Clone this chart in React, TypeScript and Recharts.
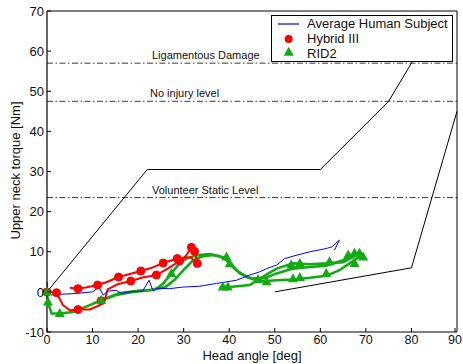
import React from 'react';
import {
  ComposedChart,
  Line,
  XAxis,
  YAxis,
  ReferenceLine,
  Legend,
} from 'recharts';

const xTicks = [0, 10, 20, 30, 40, 50, 60, 70, 80, 90];
const yTicks = [-10, 0, 10, 20, 30, 40, 50, 60, 70];

// injury reference levels [Nm]
const ligamentousDamage = 57;
const noInjuryLevel = 47.5;
const volunteerStatic = 23.5;

// corridor boundaries
const corridorUpper = [
  { x: 0, y: 0 },
  { x: 22, y: 30.5 },
  { x: 60, y: 30.5 },
  { x: 75, y: 47.5 },
  { x: 80, y: 57 },
  { x: 86, y: 68.5 },
];
const corridorLower = [
  { x: 50, y: 0 },
  { x: 80, y: 6 },
  { x: 90, y: 45 },
];

const humanAvg = [
  { x: 0, y: 2.5 }, { x: 0.2, y: -0.5 }, { x: 1.3, y: -0.8 }, { x: 3, y: -0.6 },
  { x: 6.4, y: -0.4 }, { x: 10, y: 0 }, { x: 11.4, y: 1.2 }, { x: 12.3, y: -0.8 },
  { x: 13.5, y: 0.2 }, { x: 15.2, y: 0.4 }, { x: 16.3, y: -0.4 }, { x: 18, y: 0 },
  { x: 21, y: 0.2 }, { x: 22.4, y: 2.9 }, { x: 23.3, y: 0.2 }, { x: 24.2, y: 0.9 },
  { x: 26.9, y: 0.8 }, { x: 29.9, y: 1.2 }, { x: 33.5, y: 1.4 }, { x: 37.2, y: 2.1 },
  { x: 41.6, y: 2.9 }, { x: 44.5, y: 4.2 }, { x: 46.7, y: 5 }, { x: 48.2, y: 5.8 },
  { x: 50.4, y: 6.7 }, { x: 52.2, y: 8.3 }, { x: 54, y: 8.9 }, { x: 57.7, y: 10 },
  { x: 61.3, y: 10.8 }, { x: 62.5, y: 11.2 }, { x: 64.2, y: 12.9 }, { x: 63.1, y: 10.4 },
];

const hybrid3Curve = [
  { x: 0, y: 0 }, { x: 2.1, y: -0.2 }, { x: 3.5, y: -3.3 }, { x: 5, y: -4.6 },
  { x: 6.8, y: -4.4 }, { x: 9.4, y: -4.4 }, { x: 11.6, y: -3.3 }, { x: 12.7, y: -2 },
  { x: 13.3, y: 0.6 }, { x: 15.5, y: 1.9 }, { x: 18.4, y: 2.7 }, { x: 21, y: 3.6 },
  { x: 24, y: 4.2 }, { x: 26.5, y: 5.8 }, { x: 29.1, y: 7.7 }, { x: 30.5, y: 9 },
  { x: 31.7, y: 11.1 }, { x: 32.4, y: 10.1 }, { x: 33, y: 7.1 }, { x: 31.5, y: 8.6 },
  { x: 28.6, y: 8.3 }, { x: 25.5, y: 7.2 }, { x: 23, y: 6 }, { x: 20.6, y: 5.2 },
  { x: 18, y: 4.4 }, { x: 15.7, y: 3.7 }, { x: 13, y: 2.4 }, { x: 11.1, y: 1.7 },
  { x: 8.5, y: 1.1 }, { x: 6.8, y: 0.8 }, { x: 5, y: 1 },
];
const hybrid3Samples = [
  { x: 0, y: 0 }, { x: 2.1, y: -0.2 }, { x: 6.8, y: -4.4 }, { x: 11.9, y: -2.2 },
  { x: 6.8, y: 0.8 }, { x: 11.1, y: 1.7 }, { x: 15.7, y: 3.7 }, { x: 18.4, y: 2.7 },
  { x: 20.6, y: 5.2 }, { x: 24, y: 4.2 }, { x: 25.5, y: 7.2 }, { x: 28.6, y: 8.3 },
  { x: 29.1, y: 7.7 }, { x: 31.7, y: 11.1 }, { x: 32.4, y: 10.1 }, { x: 33, y: 7.1 },
];

const rid2Loading = [
  { x: 0, y: 0 }, { x: 0.2, y: -2.5 }, { x: 1, y: -5.4 }, { x: 2.8, y: -5.4 },
  { x: 5.7, y: -5 }, { x: 9.4, y: -3.3 }, { x: 11.9, y: -2.1 }, { x: 15.2, y: -0.8 },
  { x: 18.9, y: 0 }, { x: 22.5, y: 0.4 }, { x: 24, y: 0.8 }, { x: 25.5, y: 2.1 },
  { x: 27.3, y: 4.6 }, { x: 28.8, y: 6.7 }, { x: 30.6, y: 8.3 }, { x: 32.8, y: 9.1 },
  { x: 35.7, y: 9.4 }, { x: 37.9, y: 8.9 }, { x: 40.1, y: 7.5 }, { x: 41.6, y: 5.4 },
  { x: 43.8, y: 3.7 }, { x: 46, y: 2.9 }, { x: 48.2, y: 2.7 }, { x: 50.4, y: 2.9 },
  { x: 54, y: 3.1 }, { x: 57.7, y: 3.5 }, { x: 61.3, y: 4 }, { x: 64.2, y: 5.4 },
  { x: 66.4, y: 7.1 }, { x: 68.6, y: 8.7 }, { x: 69.4, y: 9.4 },
];
const rid2Second = [
  { x: 12, y: -2 }, { x: 16, y: -0.3 }, { x: 20, y: 0.3 }, { x: 23, y: 0.5 },
  { x: 26, y: 1.2 }, { x: 28, y: 3 }, { x: 30, y: 5.5 }, { x: 32, y: 7.8 },
  { x: 34, y: 8.8 }, { x: 36.5, y: 9.2 }, { x: 39, y: 8.5 }, { x: 40.5, y: 6.5 },
  { x: 42.5, y: 4.5 }, { x: 45, y: 3.3 }, { x: 48, y: 3.5 }, { x: 50.4, y: 4.6 },
  { x: 54, y: 5.8 }, { x: 57.7, y: 6.2 }, { x: 61.3, y: 6.5 }, { x: 65, y: 7.9 },
  { x: 67.2, y: 9.2 }, { x: 68.6, y: 9.6 }, { x: 69.4, y: 8.7 },
];
const rid2Return = [
  { x: 68, y: 9.2 }, { x: 65, y: 7.4 }, { x: 61.3, y: 7.1 }, { x: 57.7, y: 6.9 },
  { x: 54, y: 7.1 }, { x: 50.4, y: 5.8 }, { x: 47, y: 3.5 }, { x: 44.5, y: 1.7 },
  { x: 40.1, y: 1.2 }, { x: 37.9, y: 1.2 },
];
const rid2Samples = [
  { x: 0, y: 0 }, { x: 0.2, y: -2.5 }, { x: 2.8, y: -5.4 }, { x: 11.9, y: -2.1 },
  { x: 27.3, y: 4.6 }, { x: 39.4, y: 8.7 }, { x: 40.1, y: 7 }, { x: 38.6, y: 1.2 },
  { x: 39.7, y: 1.2 }, { x: 46.3, y: 3.1 }, { x: 48.2, y: 2.5 }, { x: 54, y: 3.3 },
  { x: 55.5, y: 3.6 }, { x: 61.3, y: 4.6 }, { x: 62, y: 7.5 }, { x: 53.6, y: 6.7 },
  { x: 55.5, y: 7.1 }, { x: 66.1, y: 9.2 }, { x: 67.5, y: 9.6 }, { x: 68.6, y: 9.6 },
  { x: 67.5, y: 7.1 }, { x: 69.4, y: 8.7 },
];

const FONT = '"Liberation Sans", Arial, Helvetica, sans-serif';
const RED = '#ff0000';
const GREEN = '#12aa12';
const BLUE = '#0000ff';
const TM = 3; // tick label gap
const TL = 4; // inward tick length

const BottomTick = ({ x, y, payload }: any) => (
  <g>
    <line x1={x} x2={x} y1={y - TM} y2={y - TM - TL} stroke="#000" />
    <text x={x} y={y} dy="0.71em" textAnchor="middle" fontSize={12.5} fontFamily={FONT} fill="#111">
      {payload.value}
    </text>
  </g>
);
const LeftTick = ({ x, y, payload }: any) => (
  <g>
    <line x1={x + TM} x2={x + TM + TL} y1={y} y2={y} stroke="#000" />
    <text x={x} y={y} dy="0.36em" textAnchor="end" fontSize={13} fontFamily={FONT} fill="#111">
      {payload.value}
    </text>
  </g>
);
const TopTick = ({ x, y }: any) => (
  <line x1={x} x2={x} y1={y + TM} y2={y + TM + TL} stroke="#000" />
);
const RightTick = ({ x, y }: any) => (
  <line x1={x - TM} x2={x - TM - TL} y1={y} y2={y} stroke="#000" />
);

const Circle = (props: any) => {
  const { cx, cy, index } = props;
  return <circle key={`c-${index}`} cx={cx} cy={cy} r={4} fill={RED} stroke={RED} />;
};
const Triangle = (props: any) => {
  const { cx, cy, index } = props;
  return (
    <polygon
      key={`t-${index}`}
      points={`${cx},${cy - 5.5} ${cx - 5},${cy + 3.5} ${cx + 5},${cy + 3.5}`}
      fill={GREEN}
    />
  );
};

const refLabel = (text: string, dx: number) => (props: any) => {
  const { viewBox } = props;
  return (
    <text x={viewBox.x + dx} y={viewBox.y - 4} fontSize={11} fontFamily={FONT} fill="#111">
      {text}
    </text>
  );
};

const LegendBox = () => (
  <svg width={182} height={47} style={{ display: 'block' }}>
    <rect x={0.5} y={0.5} width={181} height={46} fill="#fff" stroke="#000" />
    <line x1={7} x2={28} y1={9} y2={9} stroke={BLUE} strokeWidth={1.2} />
    <circle cx={17.7} cy={24} r={4} fill={RED} />
    <polygon points="17.7,31.8 12.7,40.8 22.7,40.8" fill={GREEN} />
    <g fontSize={13} fontFamily={FONT} fill="#111">
      <text x={36} y={12.8}>Average Human Subject</text>
      <text x={36} y={28.3}>Hybrid III</text>
      <text x={36} y={42.7}>RID2</text>
    </g>
  </svg>
);

const plain = { isAnimationActive: false, dot: false, activeDot: false, legendType: 'none' as const, type: 'linear' as const };

export default function App() {
  return (
    <div style={{ position: 'absolute', left: 0, top: 0, background: '#fff' }}>
      <ComposedChart width={463} height={364} margin={{ top: 10, right: 5, left: 0, bottom: 0 }}>
        <XAxis
          dataKey="x"
          type="number"
          domain={[0, 90]}
          ticks={xTicks}
          height={32}
          tickSize={0}
          tickMargin={TM}
          tick={<BottomTick />}
          axisLine={{ stroke: '#000', strokeWidth: 1.2 }}
          label={(p: any) => (
            <text
              x={p.viewBox.x + p.viewBox.width / 2}
              y={p.viewBox.y + 28}
              textAnchor="middle"
              fontSize={13}
              fontFamily={FONT}
              fill="#111"
            >
              Head angle [deg]
            </text>
          )}
        />
        <XAxis
          xAxisId="top"
          orientation="top"
          dataKey="x"
          type="number"
          domain={[0, 90]}
          ticks={xTicks}
          height={1}
          tickSize={0}
          tickMargin={TM}
          tick={<TopTick />}
          axisLine={{ stroke: '#000' }}
        />
        <YAxis
          dataKey="y"
          type="number"
          domain={[-10, 70]}
          ticks={yTicks}
          width={47}
          tickSize={0}
          tickMargin={TM}
          tick={<LeftTick />}
          axisLine={{ stroke: '#000', strokeWidth: 1.2 }}
          label={(p: any) => {
            const cx = p.viewBox.x + 15;
            const cy = p.viewBox.y + p.viewBox.height / 2 - 1;
            return (
              <text
                x={cx}
                y={cy}
                transform={`rotate(-90 ${cx} ${cy})`}
                textAnchor="middle"
                dominantBaseline="central"
                fontSize={13}
                fontFamily={FONT}
                fill="#111"
              >
                Upper neck torque [Nm]
              </text>
            );
          }}
        />
        <YAxis
          yAxisId="right"
          orientation="right"
          dataKey="y"
          type="number"
          domain={[-10, 70]}
          ticks={yTicks}
          width={1}
          tickSize={0}
          tickMargin={TM}
          tick={<RightTick />}
          axisLine={{ stroke: '#000' }}
        />

        <ReferenceLine y={ligamentousDamage} stroke="#222" strokeWidth={0.9} strokeDasharray="6 2.5 1.5 2.5" label={refLabel('Ligamentous Damage', 105)} />
        <ReferenceLine y={noInjuryLevel} stroke="#222" strokeWidth={0.9} strokeDasharray="6 2.5 1.5 2.5" label={refLabel('No injury level', 103)} />
        <ReferenceLine y={volunteerStatic} stroke="#222" strokeWidth={0.9} strokeDasharray="6 2.5 1.5 2.5" label={refLabel('Volunteer Static Level', 105)} />

        <Line {...plain} data={corridorUpper} dataKey="y" stroke="#000" strokeWidth={1} />
        <Line {...plain} data={corridorLower} dataKey="y" stroke="#000" strokeWidth={1} />

        <Line {...plain} data={rid2Loading} dataKey="y" stroke={GREEN} strokeWidth={2.6} />
        <Line {...plain} data={rid2Second} dataKey="y" stroke={GREEN} strokeWidth={2.6} />
        <Line {...plain} data={rid2Return} dataKey="y" stroke={GREEN} strokeWidth={2.6} />

        <Line {...plain} data={hybrid3Curve} dataKey="y" stroke={RED} strokeWidth={2} />
        <Line {...plain} data={hybrid3Samples} dataKey="y" stroke="none" dot={<Circle />} />
        <Line {...plain} data={rid2Samples} dataKey="y" stroke="none" dot={<Triangle />} />

        <Line {...plain} data={humanAvg} dataKey="y" stroke={BLUE} strokeWidth={1} />

        <Legend
          layout="horizontal"
          align="center"
          verticalAlign="middle"
          content={() => <LegendBox />}
          wrapperStyle={{ top: 15, left: 271, width: 182, height: 47 }}
        />
      </ComposedChart>
    </div>
  );
}
